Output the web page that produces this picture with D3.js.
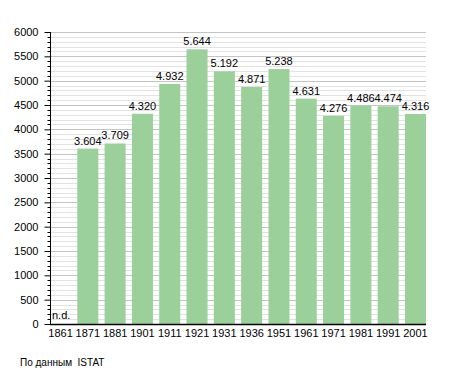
<!DOCTYPE html>
<html>
<head>
<meta charset="utf-8">
<script src="https://cdn.jsdelivr.net/npm/d3@7"></script>
<style>
  body { margin: 0; background: #fff; }
  text { font-family: "Liberation Sans", Arial, sans-serif; fill: #000; }
</style>
</head>
<body>
<div id="chart"></div>
<script>
var years = ['1861', '1871', '1881', '1901', '1911', '1921', '1931', '1936', '1951', '1961', '1971', '1981', '1991', '2001'];
var population = [null, 3604, 3709, 4320, 4932, 5644, 5192, 4871, 5238, 4631, 4276, 4486, 4474, 4316];
var labels = ['n.d.', '3.604', '3.709', '4.320', '4.932', '5.644', '5.192', '4.871', '5.238', '4.631', '4.276', '4.486', '4.474', '4.316'];
var yTicks = [0, 500, 1000, 1500, 2000, 2500, 3000, 3500, 4000, 4500, 5000, 5500, 6000];

var width = 455, height = 373;
var plotLeft = 50, plotRight = 426, plotTop = 32, plotBottom = 324;

var svg = d3.select('#chart').append('svg')
  .attr('width', width)
  .attr('height', height);

var x = d3.scaleBand()
  .domain(years)
  .range([plotLeft, plotRight])
  .paddingInner(0.23)
  .paddingOuter(0);

var y = d3.scaleLinear()
  .domain([0, 6000])
  .range([plotBottom, plotTop]);

// grid lines, minor every 100, major every 500
var minor = d3.range(0, 6001, 100);
svg.append('g').selectAll('line')
  .data(minor)
  .enter().append('line')
  .attr('x1', plotLeft)
  .attr('x2', plotRight)
  .attr('y1', function(d) { return Math.round(y(d)) + 0.5; })
  .attr('y2', function(d) { return Math.round(y(d)) + 0.5; })
  .attr('stroke', function(d) { return d % 500 == 0 ? '#c4c4c4' : '#e2e2e2'; })
  .attr('stroke-width', 1);

// bars
svg.append('g').selectAll('rect')
  .data(years.filter(function(d, i) { return population[i] != null; }))
  .enter().append('rect')
  .attr('x', function(d) { return x(d); })
  .attr('width', x.bandwidth())
  .attr('y', function(d) { return y(population[years.indexOf(d)]); })
  .attr('height', function(d) { return plotBottom - y(population[years.indexOf(d)]); })
  .attr('fill', '#9bd09b');

// value labels
svg.append('g').selectAll('text')
  .data(years)
  .enter().append('text')
  .attr('x', function(d, i) { return population[i] == null ? x(d) + 2 : x(d) + x.bandwidth() / 2; })
  .attr('y', function(d, i) { return population[i] == null ? plotBottom - 5 : y(population[i]) - 4; })
  .attr('text-anchor', function(d, i) { return population[i] == null ? 'start' : 'middle'; })
  .style('font-size', '11px')
  .text(function(d, i) { return labels[i]; });

// y axis
var yAxis = svg.append('g')
  .attr('transform', 'translate(' + (plotLeft + 0.5) + ',0)')
  .call(d3.axisLeft(y).tickValues(yTicks).tickFormat(d3.format('d')).tickSize(6).tickPadding(6));
yAxis.selectAll('text').style('font-size', '11px').style('font-family', '"Liberation Sans", Arial, sans-serif');
yAxis.select('.domain').attr('d', 'M0,' + plotTop + 'V' + plotBottom);

// minor ticks on y axis
svg.append('g').selectAll('line')
  .data(minor.filter(function(d) { return d % 500 != 0; }))
  .enter().append('line')
  .attr('x1', plotLeft - 2.5)
  .attr('x2', plotLeft + 0.5)
  .attr('y1', function(d) { return Math.round(y(d)) + 0.5; })
  .attr('y2', function(d) { return Math.round(y(d)) + 0.5; })
  .attr('stroke', '#000');

// x axis
var xAxis = svg.append('g')
  .attr('transform', 'translate(0,' + (plotBottom + 0.5) + ')')
  .call(d3.axisBottom(x).tickSize(0).tickPadding(5));
xAxis.selectAll('text').style('font-size', '11px').style('font-family', '"Liberation Sans", Arial, sans-serif');
xAxis.select('.domain').attr('d', 'M' + plotLeft + ',0H' + plotRight).attr('stroke-width', 1.3);

svg.append('text')
  .attr('x', 20)
  .attr('y', 366)
  .style('font-size', '10px')
  .style('white-space', 'pre')
  .text('По данным  ISTAT');
</script>
</body>
</html>
